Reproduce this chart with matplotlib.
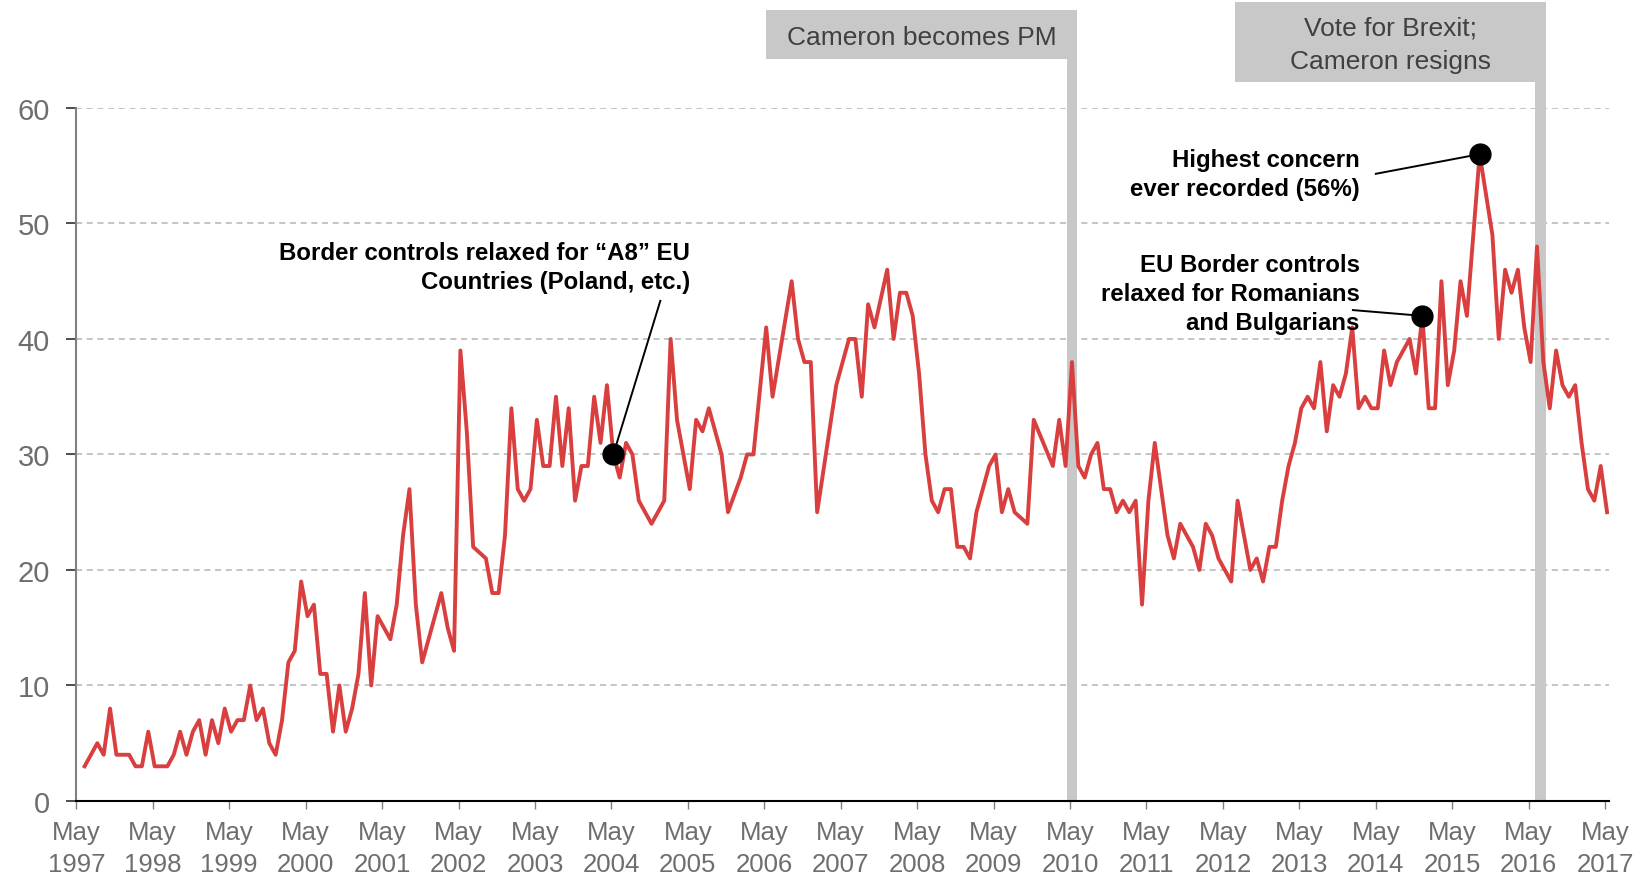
### immigration as an important issue, May 1997 - May 2017
import numpy as np
import matplotlib.pyplot as plt
import matplotlib.transforms as mtransforms
from matplotlib.patches import Rectangle

plt.rcParams['font.family'] = ['Liberation Sans', 'DejaVu Sans']

# months since May 1997 and % concern
months = [1, 3, 4, 5, 6, 8, 9, 10, 11, 12, 14, 15, 16, 17, 18, 19, 20, 21, 22, 23,
          24, 25, 26, 27, 28, 29, 30, 31, 32, 33, 34, 35, 36, 37, 38, 39, 40, 41, 42, 43,
          44, 45, 46, 47, 49, 50, 51, 52, 53, 54, 57, 58, 59, 60, 61, 62, 64, 65, 66, 67,
          68, 69, 70, 71, 72, 73, 74, 75, 76, 77, 78, 79, 80, 81, 82, 83, 84, 85, 86, 87,
          88, 90, 92, 93, 94, 96, 97, 98, 99, 101, 102, 104, 105, 106, 108, 109, 112, 113, 114, 115,
          116, 119, 120, 121, 122, 123, 124, 125, 127, 128, 129, 130, 131, 132, 133, 134, 135, 136, 137, 138,
          139, 140, 141, 142, 143, 144, 145, 146, 147, 149, 150, 153, 154, 155, 156, 157, 158, 159, 160, 161,
          162, 163, 164, 165, 166, 167, 168, 169, 171, 172, 173, 175, 176, 177, 178, 179, 181, 182, 183, 184,
          185, 186, 187, 188, 189, 190, 191, 192, 193, 194, 195, 196, 197, 198, 199, 200, 201, 202, 203, 204,
          205, 206, 207, 209, 210, 211, 212, 213, 214, 215, 216, 217, 218, 220, 222, 223, 224, 225, 226, 227,
          228, 229, 230, 231, 232, 233, 234, 235, 236, 237, 238, 239, 240]
concern = [3, 5, 4, 8, 4, 4, 3, 3, 6, 3, 3, 4, 6, 4, 6, 7, 4, 7, 5, 8,
           6, 7, 7, 10, 7, 8, 5, 4, 7, 12, 13, 19, 16, 17, 11, 11, 6, 10, 6, 8,
           11, 18, 10, 16, 14, 17, 23, 27, 17, 12, 18, 15, 13, 39, 32, 22, 21, 18, 18, 23,
           34, 27, 26, 27, 33, 29, 29, 35, 29, 34, 26, 29, 29, 35, 31, 36, 30, 28, 31, 30,
           26, 24, 26, 40, 33, 27, 33, 32, 34, 30, 25, 28, 30, 30, 41, 35, 45, 40, 38, 38,
           25, 36, 38, 40, 40, 35, 43, 41, 46, 40, 44, 44, 42, 37, 30, 26, 25, 27, 27, 22,
           22, 21, 25, 27, 29, 30, 25, 27, 25, 24, 33, 29, 33, 29, 38, 29, 28, 30, 31, 27,
           27, 25, 26, 25, 26, 17, 26, 31, 23, 21, 24, 22, 20, 24, 23, 21, 19, 26, 23, 20,
           21, 19, 22, 22, 26, 29, 31, 34, 35, 34, 38, 32, 36, 35, 37, 41, 34, 35, 34, 34,
           39, 36, 38, 40, 37, 42, 34, 34, 45, 36, 39, 45, 42, 56, 49, 40, 46, 44, 46, 41,
           38, 48, 38, 34, 39, 36, 35, 36, 31, 27, 26, 29, 25]

years = list(range(1997, 2018))
tick_labels = [f"May\n{y}" for y in years]

events = ["Cameron becomes PM", "Vote for Brexit;\nCameron resigns"]
event_months = [156, 229.6]

notes = ["Border controls relaxed for \u201cA8\u201d EU\nCountries (Poland, etc.)",
         "EU Border controls\nrelaxed for Romanians\nand Bulgarians",
         "Highest concern\never recorded (56%)"]
note_months = [84, 211, 220]

t = (np.array(months) + 0.3) / 12
val = np.array(concern)

fig = plt.figure(figsize=(16.44, 8.78), dpi=100)
ax = fig.add_axes([0.0464, 0.0866, 0.9323, 0.7893])

ax.plot(t, val, color='#D93F3F', lw=2.8, zorder=3)

ax.set_xlim(0, 20.05)
ax.set_ylim(0, 60)
ax.set_yticks(range(0, 61, 10))
ax.set_xticks(range(0, 21))
ax.set_xticklabels(tick_labels)
for y in range(10, 61, 10):
    ax.axhline(y, color='#b4b4b4', lw=1.1, ls=(0, (4, 3)), zorder=1)

for s in ['top', 'right']:
    ax.spines[s].set_visible(False)
ax.spines['left'].set_color('#808080')
ax.spines['left'].set_linewidth(1.5)
ax.spines['bottom'].set_color('black')
ax.spines['bottom'].set_linewidth(1.5)
ax.tick_params(axis='y', labelsize=21, labelcolor='#6e6e6e', length=7, width=1.3,
               color='#404040', pad=12)
ax.tick_params(axis='x', labelsize=18.5, labelcolor='#6e6e6e', length=6, width=1,
               color='#808080', pad=8)
for lbl in ax.get_xticklabels():
    lbl.set_linespacing(1.4)

# event bars and label boxes
trans = mtransforms.blended_transform_factory(ax.transData, ax.transAxes)
bar_w = 0.14
box_w = 4.07
box_y = [(1.071, 1.142), (1.0375, 1.153)]
for i in range(len(events)):
    xc = (event_months[i] + 0.3) / 12
    right = xc + bar_w / 2
    ax.add_patch(Rectangle((xc - bar_w / 2, 0), bar_w, box_y[i][0], transform=trans,
                           color='#c8c8c8', clip_on=False, zorder=2, lw=0))
    y0, y1 = box_y[i]
    ax.add_patch(Rectangle((right - box_w, y0), box_w, y1 - y0, transform=trans,
                           color='#c8c8c8', clip_on=False, zorder=2, lw=0))
    ax.text(right - box_w / 2, (y0 + y1) / 2 - 0.004, events[i], transform=trans,
            ha='center', va='center', fontsize=19, color='#404040', linespacing=1.5)

# annotations
text_pos = [(8.03, 46.25), (16.79, 43.95), (16.79, 54.25)]
line_end = [(7.64, 43.3), (16.70, 42.5), (17.0, 54.3)]
for i in range(len(notes)):
    k = months.index(note_months[i])
    px, py = t[k], val[k]
    ax.plot([px, line_end[i][0]], [py, line_end[i][1]], color='black', lw=1.4, zorder=4)
    ax.plot(px, py, 'o', color='black', ms=15, zorder=5)
    ax.text(text_pos[i][0], text_pos[i][1], notes[i], ha='right', va='center',
            fontsize=17.3, fontweight='bold', color='black', linespacing=1.32, zorder=6)

plt.savefig('out.png', format='png')
